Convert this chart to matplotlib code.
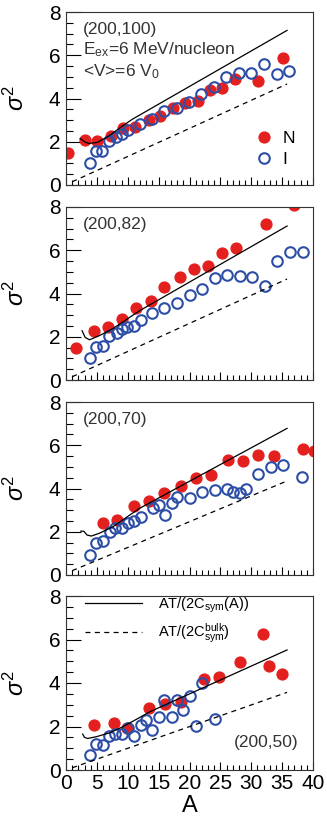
import matplotlib
matplotlib.use('Agg')
import matplotlib.pyplot as plt
from matplotlib.lines import Line2D

plt.rcParams['font.family'] = ['Liberation Sans', 'DejaVu Sans']
plt.rcParams['mathtext.fontset'] = 'custom'
plt.rcParams['mathtext.rm'] = 'Liberation Sans'
plt.rcParams['mathtext.it'] = 'Liberation Sans:italic'
plt.rcParams['mathtext.bf'] = 'Liberation Sans:bold'

RED = '#e4201f'
BLUE = '#2d4ea6'

# ---- data ----
labels = ['(200,100)', '(200,82)', '(200,70)', '(200,50)']

n_x = [
    [0.4, 3.1, 5.1, 7.3, 9.3, 11.2, 13.4, 15.3, 17.3, 19.3, 21.4, 23.4, 25.3, 27.4, 31.1, 35.2],
    [1.6, 4.5, 6.8, 9.1, 11.4, 13.7, 15.9, 18.5, 20.7, 23.0, 25.3, 27.6, 32.4, 37.0],
    [6.0, 8.3, 11.0, 13.4, 15.9, 18.6, 21.0, 23.5, 26.3, 28.6, 31.1, 33.7, 38.3, 40.2],
    [4.5, 7.7, 9.9, 13.5, 16.1, 18.6, 22.4, 24.8, 28.1, 31.9, 32.9, 34.9],
]
n_y = [
    [1.46, 2.08, 2.05, 2.28, 2.62, 2.66, 3.0, 3.2, 3.58, 3.78, 3.89, 4.38, 4.48, 4.89, 4.82, 5.86],
    [1.46, 2.28, 2.46, 2.82, 3.31, 3.66, 4.32, 4.74, 5.15, 5.28, 5.89, 6.12, 7.2, 8.07],
    [2.39, 2.54, 3.19, 3.43, 3.81, 4.12, 4.48, 4.64, 5.33, 5.29, 5.57, 5.49, 5.84, 5.72],
    [2.05, 2.16, 1.92, 2.85, 3.04, 3.12, 4.2, 4.29, 4.98, 6.23, 4.76, 4.43],
]

i_x = [
    [3.9, 4.9, 5.9, 6.9, 8.1, 9.0, 10.0, 12.0, 13.9, 15.8, 17.9, 19.9, 21.9, 23.9, 25.9, 28.0, 30.0, 32.0, 34.1, 36.1],
    [3.9, 4.9, 6.0, 7.0, 8.2, 9.1, 9.9, 11.0, 12.1, 14.0, 15.9, 18.0, 20.1, 22.1, 24.1, 26.1, 28.2, 30.2, 32.2, 34.2, 36.3, 38.3],
    [3.9, 4.9, 6.0, 7.1, 7.9, 9.1, 10.1, 11.0, 12.1, 14.1, 15.1, 16.0, 17.1, 18.0, 20.0, 22.1, 24.1, 26.1, 27.1, 28.2, 29.2, 31.1, 33.2, 35.2, 38.2],
    [3.9, 4.9, 6.0, 7.0, 8.0, 9.1, 10.1, 11.0, 12.1, 13.0, 14.0, 15.1, 15.9, 17.1, 18.0, 19.0, 20.1, 21.1, 22.0, 24.2],
]
i_y = [
    [1.02, 1.55, 1.58, 2.05, 2.2, 2.38, 2.54, 2.82, 3.05, 3.43, 3.58, 3.86, 4.23, 4.54, 5.0, 5.2, 5.2, 5.58, 5.12, 5.28],
    [1.02, 1.51, 1.58, 2.05, 2.17, 2.35, 2.46, 2.51, 2.77, 3.09, 3.35, 3.58, 3.94, 4.23, 4.71, 4.85, 4.82, 4.77, 4.35, 5.48, 5.92, 5.92],
    [0.91, 1.49, 1.57, 2.0, 2.16, 2.16, 2.42, 2.5, 2.68, 3.09, 3.24, 2.78, 3.32, 3.63, 3.58, 3.86, 3.91, 3.98, 3.86, 3.78, 3.98, 4.67, 4.98, 5.1, 4.51],
    [0.68, 1.19, 1.15, 1.58, 1.66, 1.64, 1.92, 1.57, 2.08, 2.31, 1.84, 2.43, 3.24, 2.43, 3.24, 2.78, 3.4, 2.03, 3.98, 2.34],
]

# AT/(2Csym(A)) curves
sol_x = [
    [2.3, 3.0, 3.7, 5.1, 7.0, 9.2, 10.8, 35.8],
    [2.6, 3.1, 3.8, 5.4, 7.6, 9.7, 11.9, 35.8],
    [2.4, 2.9, 3.4, 4.1, 5.4, 7.6, 9.7, 11.9, 35.8],
    [2.7, 3.0, 3.5, 4.9, 7.1, 9.2, 11.4, 13.6, 35.8],
]
sol_y = [
    [2.15, 2.0, 1.92, 1.97, 2.28, 2.74, 3.05, 7.15],
    [2.28, 1.97, 1.86, 2.05, 2.38, 2.78, 3.2, 7.12],
    [2.03, 2.02, 1.85, 1.8, 1.93, 2.23, 2.65, 3.08, 6.78],
    [1.65, 1.5, 1.45, 1.53, 1.71, 1.99, 2.33, 2.68, 5.52],
]
# AT/(2Csym_bulk) lines
dash_x = [[1.0, 35.8], [1.0, 35.8], [1.0, 35.8], [1.0, 35.8]]
dash_y = [[0.15, 4.67], [0.15, 4.67], [0.2, 4.35], [0.1, 3.57]]

# ---- figure ----
fig = plt.figure(figsize=(3.27, 8.24), dpi=100)
W = 327.0
H = 824.0
left = 66 / W
width = (313 - 66) / W
tops = [12, 207, 402, 596]
bots = [185, 380, 575, 770]

for k in range(4):
    ax = fig.add_axes([left, 1 - bots[k] / H, width, (bots[k] - tops[k]) / H])
    ax.plot(n_x[k], n_y[k], 'o', color=RED, ms=7.8, mec=RED, zorder=2)
    ax.plot(i_x[k], i_y[k], 'o', mfc='none', mec=BLUE, mew=1.5, ms=7.6, zorder=3)
    ax.plot(sol_x[k], sol_y[k], '-', color='black', lw=0.9, zorder=4)
    ax.plot(dash_x[k], dash_y[k], '--', color='black', lw=0.9, dashes=(4, 3.5), zorder=4)

    ax.set_xlim(0, 40)
    ax.set_ylim(0, 8)
    ax.set_xticks(range(0, 41, 5))
    ax.set_xticks(range(0, 41, 1), minor=True)
    ax.set_yticks([0, 2, 4, 6, 8])
    ax.set_yticks([i * 0.5 for i in range(17)], minor=True)
    ax.tick_params(which='both', direction='in', top=False, right=False, labelsize=15)
    ax.tick_params(axis='y', which='major', length=11, width=0.8, pad=4)
    ax.tick_params(axis='y', which='minor', length=5, width=0.8)
    ax.tick_params(axis='x', which='major', length=5.5, width=0.8, pad=3)
    ax.tick_params(axis='x', which='minor', length=3.5, width=0.8)
    for s in ax.spines.values():
        s.set_linewidth(0.8)
        s.set_color('#333333')
    if k < 3:
        ax.tick_params(axis='x', labelbottom=False)
    else:
        ax.set_xlabel('A', fontsize=17, labelpad=1)

    ax.set_ylabel(r'$\sigma^2$', fontsize=17)
    ax.yaxis.set_label_coords(-0.15, 0.5)

    if k < 3:
        ax.text(2.7, 7.18, labels[k], fontsize=12.5, va='center', ha='left', color='#333333')
    else:
        ax.text(37.6, 1.25, labels[k], fontsize=12.5, va='center', ha='right', color='#333333')

    if k == 0:
        ax.text(2.7, 6.25, r'E$_{\rm ex}$=6 MeV/nucleon', fontsize=12.5, va='center', color='#333333')
        ax.text(2.7, 5.25, r'<V>=6 V$_0$', fontsize=12.5, va='center', color='#333333')
        hs = [Line2D([], [], ls='none', marker='o', color=RED, ms=7.8),
              Line2D([], [], ls='none', marker='o', mfc='none', mec=BLUE, mew=1.5, ms=7.6)]
        ax.legend(hs, ['N', 'I'], loc='center left', bbox_to_anchor=(0.765, 0.2075),
                  frameon=False, fontsize=12.5, handlelength=1.0, handletextpad=0.6,
                  labelspacing=0.3, borderpad=0, borderaxespad=0, numpoints=1)
    if k == 3:
        hs = [Line2D([], [], color='black', lw=0.9),
              Line2D([], [], color='black', lw=0.9, ls='--', dashes=(4, 3.5))]
        ax.legend(hs, [r'AT/(2C$_{\rm sym}$(A))', r'AT/(2C$_{\rm sym}^{\rm bulk}$)'],
                  loc='center left', bbox_to_anchor=(0.077, 0.861), frameon=False,
                  fontsize=10.5, handlelength=3.9, handletextpad=1.1, labelspacing=0.45,
                  borderpad=0, borderaxespad=0)

fig.savefig('out.png', dpi=100)
